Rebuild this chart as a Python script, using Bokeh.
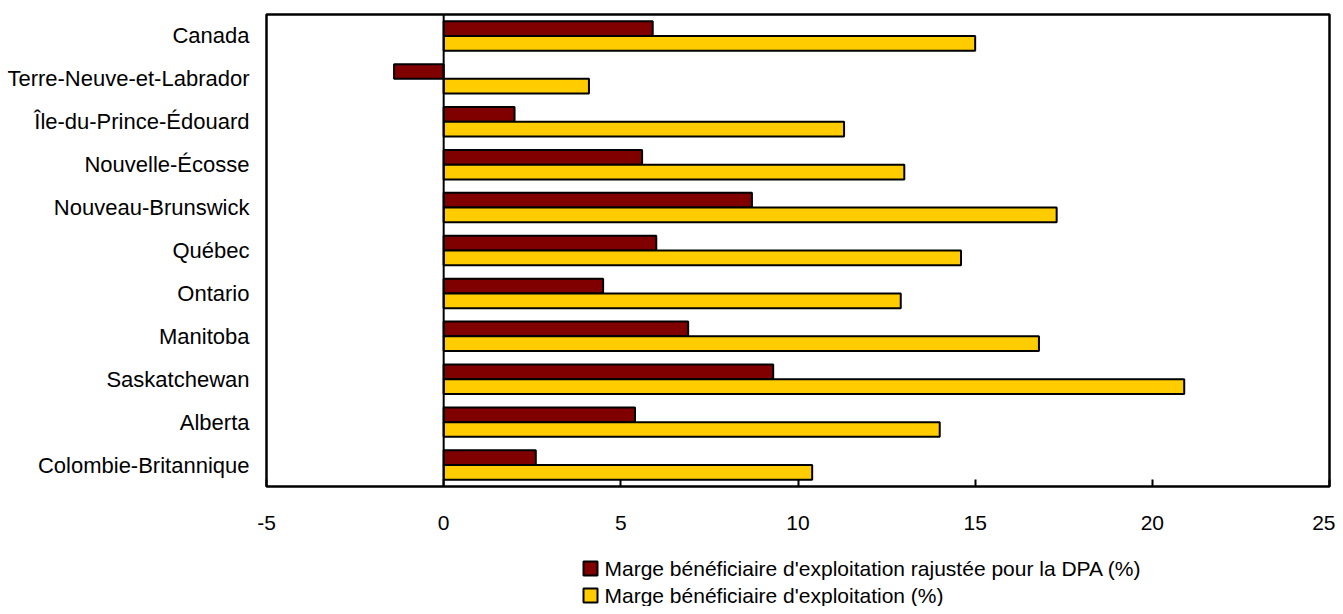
from bokeh.plotting import figure
from bokeh.layouts import column
from bokeh.models import (ColumnDataSource, FactorRange, Range1d, FixedTicker,
                          Span, PrintfTickFormatter)
from bokeh.core.properties import value
from bokeh.transform import dodge
from bokeh.embed import file_html
from bokeh.resources import INLINE

provinces = ["Canada", "Terre-Neuve-et-Labrador", "Île-du-Prince-Édouard",
             "Nouvelle-Écosse", "Nouveau-Brunswick", "Québec", "Ontario",
             "Manitoba", "Saskatchewan", "Alberta", "Colombie-Britannique"]
marge_dpa = [5.9, -1.4, 2.0, 5.6, 8.7, 6.0, 4.5, 6.9, 9.3, 5.4, 2.6]
marge = [15.0, 4.1, 11.3, 13.0, 17.3, 14.6, 12.9, 16.8, 20.9, 14.0, 10.4]
x_ticks = [-5, 0, 5, 10, 15, 20, 25]
series_labels = ["Marge bénéficiaire d'exploitation rajustée pour la DPA (%)",
                 "Marge bénéficiaire d'exploitation (%)"]
series_colors = ["#800000", "#FFCC00"]

FONT = "Liberation Sans"
FS = "21px"
W = 1335
LEFT, RIGHT = 266, 6

src = ColumnDataSource(dict(prov=provinces, dpa=marge_dpa, marge=marge))

p = figure(width=W, height=540, output_backend="svg", toolbar_location=None,
           y_range=FactorRange(factors=list(reversed(provinces))),
           x_range=Range1d(-5, 25),
           min_border_left=LEFT, min_border_right=RIGHT, min_border_top=14,
           min_border_bottom=54)

bar_h = 0.343
p.hbar(y=dodge("prov", bar_h / 2, range=p.y_range), right="dpa", left=0,
       height=bar_h, source=src, fill_color=series_colors[0],
       line_color="black", line_width=2)
p.hbar(y=dodge("prov", -bar_h / 2, range=p.y_range), right="marge", left=0,
       height=bar_h, source=src, fill_color=series_colors[1],
       line_color="black", line_width=2)

p.add_layout(Span(location=0, dimension="height", line_color="black",
                  line_width=2))

p.xgrid.visible = False
p.ygrid.visible = False
p.outline_line_color = "black"
p.outline_line_width = 2.5
p.background_fill_color = "white"
p.border_fill_color = "white"

p.xaxis.ticker = FixedTicker(ticks=x_ticks)
p.xaxis.formatter = PrintfTickFormatter(format="%d")
p.xaxis.axis_line_color = None
p.xaxis.major_tick_in = 7
p.xaxis.major_tick_out = 0
p.xaxis.major_tick_line_width = 2
p.xaxis.major_tick_line_color = "black"
p.xaxis.minor_tick_line_color = None
p.xaxis.major_label_standoff = 29
p.xaxis.major_label_text_font = FONT
p.xaxis.major_label_text_font_size = FS
p.xaxis.major_label_text_color = "black"

p.yaxis.axis_line_color = None
p.yaxis.major_tick_line_color = None
p.yaxis.minor_tick_line_color = None
p.yaxis.major_label_standoff = 11
p.yaxis.major_label_text_font = FONT
p.yaxis.major_label_text_font_size = "22px"
p.yaxis.major_label_text_color = "black"

# legend panel (pixel coordinates, frame aligned with the main plot frame)
LH = 66
lg = figure(width=W, height=LH, output_backend="svg", toolbar_location=None,
            x_range=Range1d(LEFT, W - RIGHT), y_range=Range1d(LH, 0),
            x_axis_location=None, y_axis_location=None,
            min_border_left=LEFT, min_border_right=RIGHT, min_border_top=0,
            min_border_bottom=0)
lg.outline_line_color = None
lg.xgrid.visible = False
lg.ygrid.visible = False
lg.background_fill_color = "white"
lg.border_fill_color = "white"

leg_y = [28, 55]
lsrc = ColumnDataSource(dict(y=leg_y, label=series_labels, color=series_colors))
lg.rect(x=590, y="y", width=14, height=14, width_units="screen",
        height_units="screen", fill_color="color", line_color="black",
        line_width=2, source=lsrc)
lg.text(x=604, y="y", text="label", source=lsrc, text_baseline="middle",
        text_align="left", text_font=value(FONT), text_font_size=FS,
        text_color="black")

layout = column(p, lg, spacing=0)
open("out.html", "w").write(file_html(layout, INLINE))
